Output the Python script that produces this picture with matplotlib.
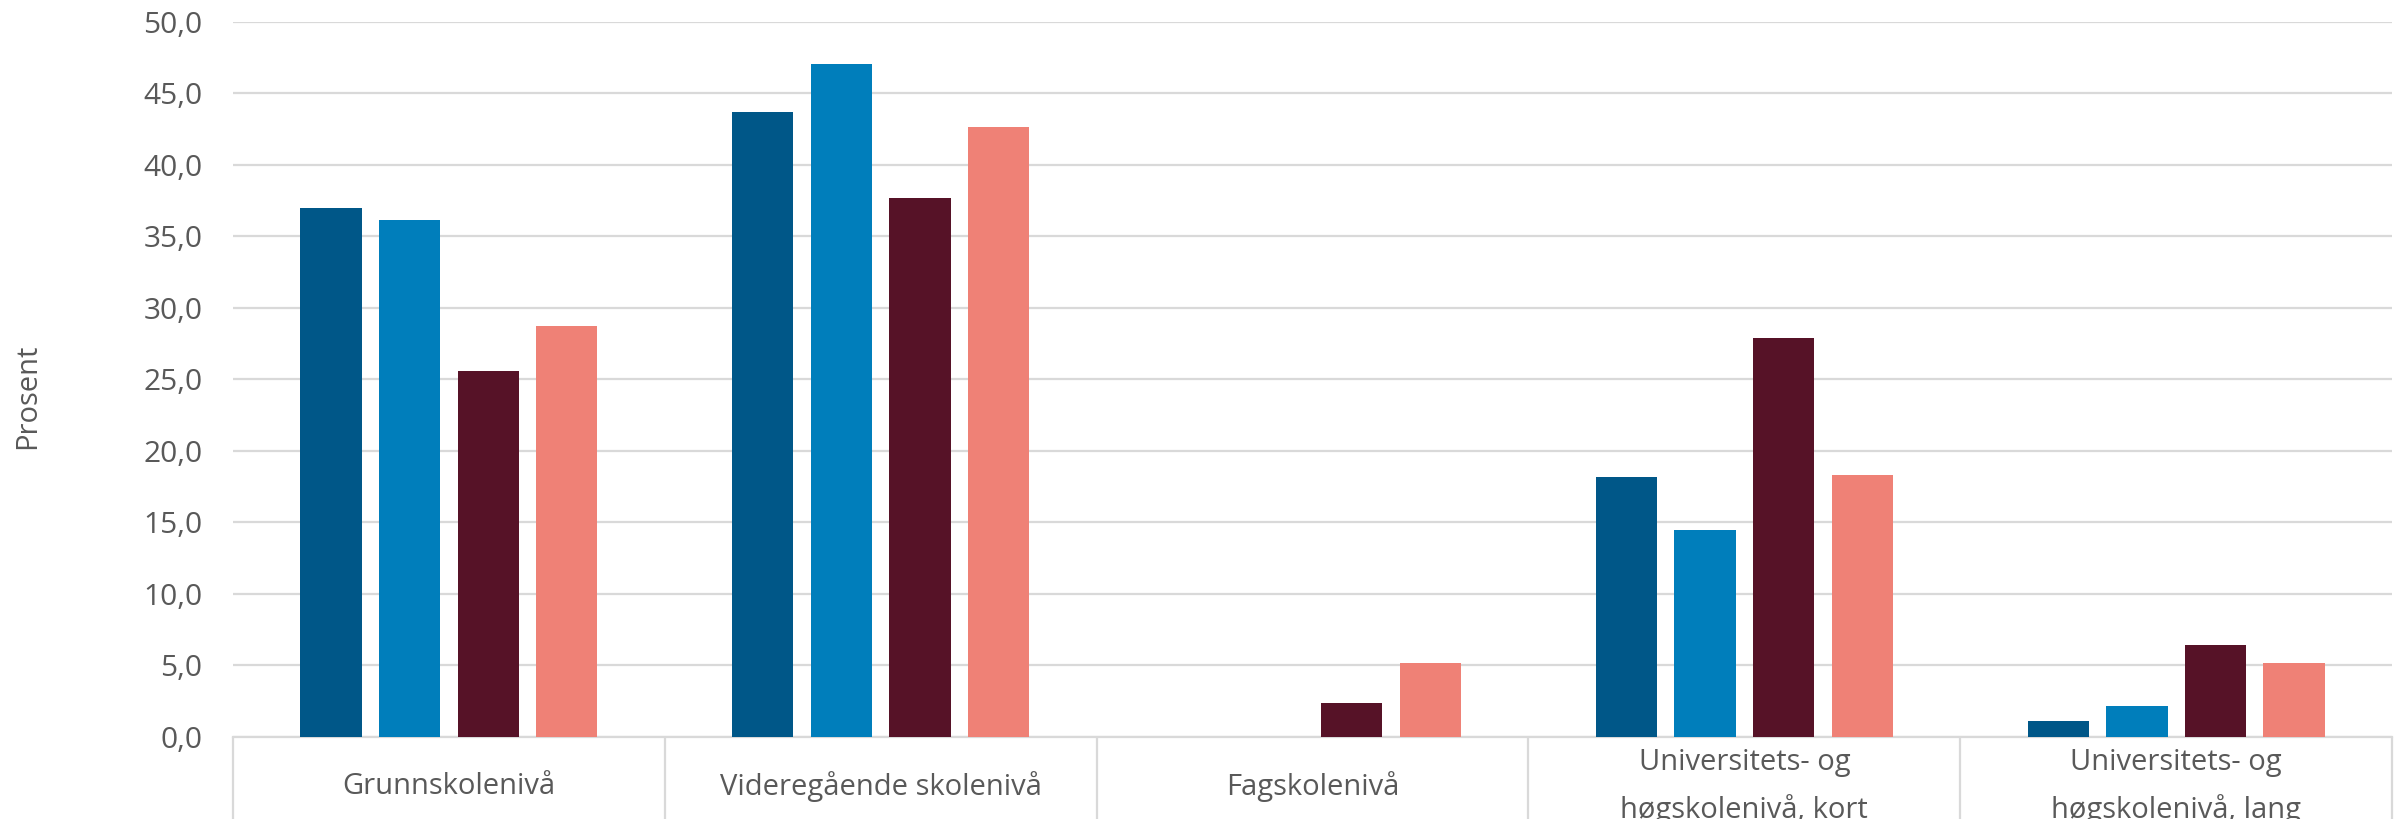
import matplotlib
matplotlib.use("Agg")
import matplotlib.pyplot as plt
import matplotlib.transforms as mtransforms
import numpy as np

# Education level categories (x axis)
categories = [
    "Grunnskolenivå",
    "Videregående skolenivå",
    "Fagskolenivå",
    "Universitets- og\nhøgskolenivå, kort",
    "Universitets- og\nhøgskolenivå, lang",
]

# Four series, values in percent
series_1 = [37.0, 43.7, 0.0, 18.2, 1.1]
series_2 = [36.1, 47.0, 0.0, 14.5, 2.2]
series_3 = [25.6, 37.7, 2.4, 27.9, 6.4]
series_4 = [28.7, 42.6, 5.2, 18.3, 5.2]

colors = ["#005788", "#007EBB", "#561227", "#EF8176"]
y_ticks = [0, 5, 10, 15, 20, 25, 30, 35, 40, 45, 50]

TEXT = "#595959"
GRID = "#D9D9D9"

plt.rcParams["font.family"] = ["Open Sans", "DejaVu Sans"]

fig = plt.figure(figsize=(24.07, 8.19), dpi=100)
ax = fig.add_axes([0.0968, 0.1001, 0.8970, 0.8736])

x = np.arange(len(categories))
bar_w = 0.142
step = 0.182
all_series = [series_1, series_2, series_3, series_4]
for i, (vals, col) in enumerate(zip(all_series, colors)):
    offset = (i - 1.5) * step
    ax.bar(x + offset, vals, width=bar_w, color=col, zorder=3)

ax.set_ylim(0, 50)
ax.set_xlim(-0.5, len(categories) - 0.5)
ax.set_yticks(y_ticks)
ax.set_yticklabels([f"{v:.1f}".replace(".", ",") for v in y_ticks])
ax.grid(True, axis="y", color=GRID, linewidth=1.6, zorder=0)

# separator ticks at the category boundaries, labels centred in each box
ax.set_xticks([])
ax.set_xticks(np.arange(-0.5, len(categories)), minor=True)
ax.tick_params(axis="x", which="minor", length=70, width=1.6, color=GRID, direction="out")
ax.tick_params(axis="y", length=0, pad=22, labelsize=21.5, labelcolor=TEXT)

trans = mtransforms.blended_transform_factory(ax.transData, ax.transAxes)
for xi, label in zip(x, categories):
    ax.text(xi, -0.069, label, transform=trans, ha="center", va="center",
            fontsize=21, color=TEXT, linespacing=1.7, clip_on=False)

for side in ["top", "right", "left"]:
    ax.spines[side].set_visible(False)
ax.spines["bottom"].set_color(GRID)
ax.spines["bottom"].set_linewidth(1.6)

fig.text(0.0116, 0.516, "Prosent", rotation=90, ha="center", va="center",
         fontsize=21, color=TEXT)

fig.savefig("out.png", dpi=100, facecolor="white")
